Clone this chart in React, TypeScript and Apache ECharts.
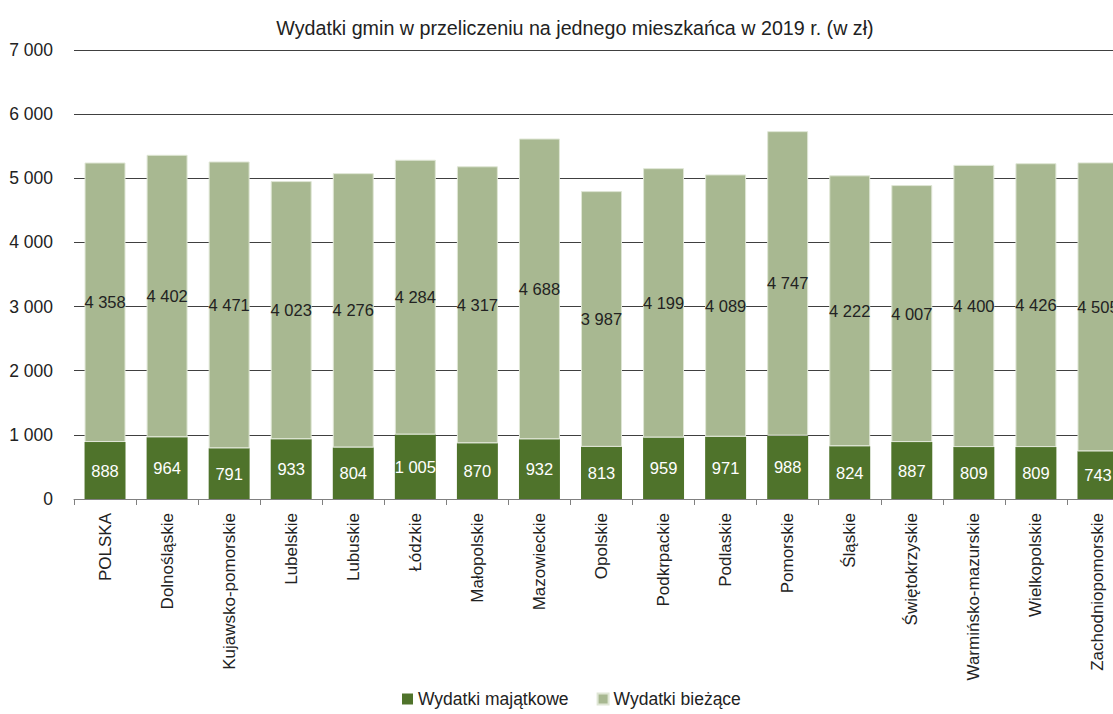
import React, { useEffect, useRef } from "react";
import * as echarts from "echarts";

const categories = [
  "POLSKA", "Dolnośląskie", "Kujawsko-pomorskie", "Lubelskie", "Lubuskie", "Łódzkie",
  "Małopolskie", "Mazowieckie", "Opolskie", "Podkrpackie", "Podlaskie", "Pomorskie",
  "Śląskie", "Świętokrzyskie", "Warmińsko-mazurskie", "Wielkopolskie", "Zachodniopomorskie",
];
const majatkowe = [888, 964, 791, 933, 804, 1005, 870, 932, 813, 959, 971, 988, 824, 887, 809, 809, 743];
const biezace = [4358, 4402, 4471, 4023, 4276, 4284, 4317, 4688, 3987, 4199, 4089, 4747, 4222, 4007, 4400, 4426, 4505];
const yTicks = [0, 1000, 2000, 3000, 4000, 5000, 6000, 7000];

const titleText = "Wydatki gmin w przeliczeniu na jednego mieszkańca w 2019 r. (w zł)";
const seriesNames = ["Wydatki majątkowe", "Wydatki bieżące"];

const fmt = (v: number) => String(v).replace(/\B(?=(\d{3})+(?!\d))/g, " ");
const FONT = "'Liberation Sans', Arial, sans-serif";

export default function App() {
  const ref = useRef<HTMLDivElement>(null);
  useEffect(() => {
    if (!ref.current) return;
    const chart = echarts.init(ref.current, undefined, { renderer: "svg" });
    chart.setOption({
      animation: false,
      backgroundColor: "#ffffff",
      title: {
        text: titleText,
        left: 570,
        top: 13,
        textAlign: "center",
        textStyle: { fontFamily: FONT, fontSize: 19.7, fontWeight: "normal", color: "#222222" },
      },
      legend: {
        top: 690,
        left: 402,
        itemWidth: 11,
        itemHeight: 11,
        itemGap: 28,
        icon: "rect",
        padding: 0,
        textStyle: { fontFamily: FONT, fontSize: 17.5, color: "#222222" },
        data: seriesNames,
      },
      grid: { left: 74, right: 11, top: 50, bottom: 215, containLabel: false },
      xAxis: {
        type: "category",
        data: categories,
        axisLine: { lineStyle: { color: "#808080", width: 1 } },
        axisTick: { show: true, length: 6, lineStyle: { color: "#808080" } },
        axisLabel: {
          rotate: 90,
          interval: 0,
          margin: 14,
          fontFamily: FONT,
          fontSize: 17,
          color: "#222222",
        },
      },
      yAxis: {
        type: "value",
        min: 0,
        max: 7000,
        interval: 1000,
        axisLine: { show: false },
        axisTick: { show: false },
        splitLine: { lineStyle: { color: "#404040", width: 1 } },
        axisLabel: {
          margin: 21,
          fontFamily: FONT,
          fontSize: 17.5,
          color: "#222222",
          formatter: (v: number) => (yTicks.includes(v) ? fmt(v) : ""),
        },
      },
      series: [
        {
          name: seriesNames[0],
          type: "bar",
          stack: "total",
          data: majatkowe,
          barCategoryGap: "34%",
          itemStyle: { color: "#4f732b" },
          label: {
            show: true,
            position: "inside",
            color: "#ffffff",
            fontFamily: FONT,
            fontSize: 16.5,
            formatter: (p: any) => fmt(p.value),
          },
        },
        {
          name: seriesNames[1],
          type: "bar",
          stack: "total",
          data: biezace,
          barCategoryGap: "34%",
          itemStyle: { color: "#a8b891", borderColor: "#dfe6d5", borderWidth: 1 },
          label: {
            show: true,
            position: "inside",
            color: "#222222",
            fontFamily: FONT,
            fontSize: 16.5,
            formatter: (p: any) => fmt(p.value),
          },
        },
      ],
    });
    return () => chart.dispose();
  }, []);
  return (
    <div style={{ position: "fixed", left: 0, top: 0, width: 1113, height: 714, overflow: "hidden", background: "#fff" }}>
      <div ref={ref} style={{ width: 1140, height: 714 }} />
    </div>
  );
}
